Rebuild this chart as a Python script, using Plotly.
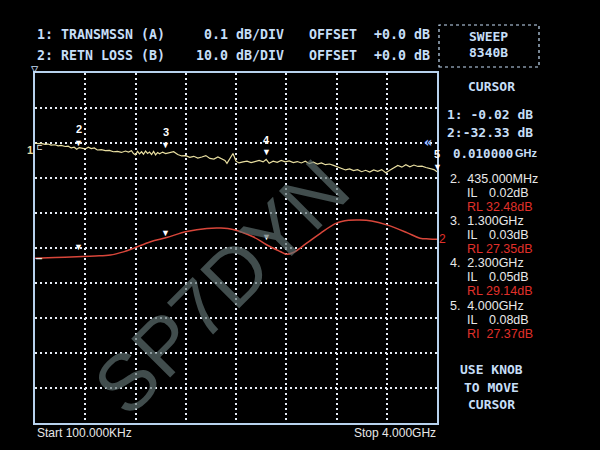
import plotly.graph_objects as go

# ---------------- data ----------------
# Trace 1: transmission (dB), 0.1 dB/div
trans_freq = [0.0001, 0.03, 0.06, 0.10, 0.13, 0.16, 0.20, 0.23, 0.26, 0.30, 0.33, 0.36, 0.39,
              0.415, 0.44, 0.47, 0.50, 0.53, 0.56, 0.59, 0.62, 0.66, 0.70, 0.74, 0.78, 0.82,
              0.86, 0.90, 0.93, 0.96, 0.98, 1.00, 1.02, 1.04, 1.06, 1.08, 1.10, 1.12, 1.14,
              1.16, 1.18, 1.20, 1.22, 1.24, 1.27, 1.30, 1.34, 1.38, 1.42, 1.46, 1.50, 1.54,
              1.58, 1.62, 1.66, 1.70, 1.74, 1.78, 1.82, 1.86, 1.89, 1.91, 1.94, 1.97, 2.00,
              2.03, 2.07, 2.11, 2.15, 2.19, 2.23, 2.27, 2.30, 2.33, 2.37, 2.41, 2.45, 2.49,
              2.53, 2.57, 2.61, 2.65, 2.69, 2.73, 2.77, 2.81, 2.85, 2.89, 2.93, 2.97, 3.01,
              3.05, 3.09, 3.13, 3.17, 3.21, 3.25, 3.29, 3.33, 3.37, 3.41, 3.45, 3.49, 3.53,
              3.57, 3.61, 3.65, 3.69, 3.73, 3.77, 3.81, 3.85, 3.89, 3.93, 3.97, 4.00]
trans_db = [0.000, -0.002, -0.001, -0.004, -0.003, -0.006, -0.005, -0.008, -0.007, -0.010,
            -0.009, -0.014, -0.012, -0.018, -0.013, -0.015, -0.017, -0.012, -0.016, -0.014,
            -0.020, -0.019, -0.022, -0.021, -0.025, -0.024, -0.027, -0.023, -0.026, -0.022,
            -0.030, -0.034, -0.024, -0.031, -0.025, -0.032, -0.023, -0.030, -0.026, -0.033,
            -0.024, -0.034, -0.027, -0.031, -0.026, -0.030, -0.028, -0.025, -0.033, -0.037,
            -0.036, -0.041, -0.038, -0.043, -0.040, -0.036, -0.044, -0.046, -0.040, -0.045,
            -0.050, -0.058, -0.042, -0.030, -0.052, -0.057, -0.054, -0.052, -0.056, -0.053,
            -0.050, -0.054, -0.047, -0.058, -0.052, -0.055, -0.050, -0.054, -0.051, -0.056,
            -0.053, -0.057, -0.052, -0.059, -0.055, -0.060, -0.057, -0.062, -0.060, -0.064,
            -0.068, -0.073, -0.077, -0.074, -0.079, -0.076, -0.082, -0.078, -0.083, -0.077,
            -0.081, -0.076, -0.085, -0.078, -0.070, -0.064, -0.069, -0.062, -0.068, -0.063,
            -0.067, -0.066, -0.070, -0.073, -0.076, -0.082]

# Trace 2: return loss (dB), 10 dB/div
rl_freq = [0.0001, 0.2, 0.415, 0.6, 0.75, 0.88, 0.98, 1.15, 1.31, 1.51, 1.71, 1.85, 1.97,
           2.17, 2.30, 2.44, 2.50, 2.57, 2.70, 2.84, 3.00, 3.12, 3.23, 3.35, 3.50, 3.70,
           3.83, 3.92, 4.00]
rl_db = [-32.9, -32.7, -32.5, -32.3, -32.0, -31.1, -30.1, -28.2, -27.0, -25.3, -24.4, -24.3,
         -24.7, -26.8, -29.0, -31.0, -31.8, -31.3, -28.7, -25.8, -22.9, -22.1, -22.0, -22.3,
         -23.4, -25.6, -27.2, -27.4, -27.5]

# Markers
marker_ids = ["2", "3", "4", "5"]
marker_freq = [0.435, 1.3, 2.3, 4.0]
marker_freq_text = ["435.000MHz", "1.300GHz", "2.300GHz", "4.000GHz"]
marker_il = [-0.02, -0.03, -0.05, -0.08]
marker_il_text = ["0.02dB", "0.03dB", "0.05dB", "0.08dB"]
marker_rl = [-32.48, -27.35, -29.14, -27.37]
marker_rl_text = ["RL 32.48dB", "RL 27.35dB", "RL 29.14dB", "RI  27.37dB"]

header_rows = [("1: TRANSMSSN (A)", "0.1 dB/DIV", "OFFSET", "+0.0 dB"),
               ("2: RETN LOSS (B)", "10.0 dB/DIV", "OFFSET", "+0.0 dB")]

# ---------------- style ----------------
W, H = 600, 450
MONO = "DejaVu Sans Mono"
SANS = "Liberation Sans"
BLUE = "#c6def7"
WHITE = "#e8e8e8"
RED = "#e0302a"
arrow_shift = [8, 9, 9, 5]      # px above trace, trace-1 marker arrows
label_shift = [21, 22, 21, 17]  # px above trace, trace-1 marker numbers
rl_arrow_shift = [10, 6, 8]


def px(x):
    return x / W


def py(y):
    return 1 - y / H


fig = go.Figure()
fig.add_trace(go.Scatter(x=rl_freq, y=rl_db, mode="lines", yaxis="y",
                         line=dict(color="#d8463a", width=1.5, shape="spline"),
                         hoverinfo="skip", showlegend=False))
fig.add_trace(go.Scatter(x=trans_freq, y=trans_db, mode="lines", yaxis="y2",
                         line=dict(color="#e8dea0", width=1.2),
                         hoverinfo="skip", showlegend=False))

ann = []


def text(x, y, s, size=13, color=BLUE, family=MONO, xanchor="left", bold=False, **kw):
    ann.append(dict(x=px(x), y=py(y), xref="paper", yref="paper", text=(f"<b>{s}</b>" if bold else s),
                    showarrow=False, xanchor=xanchor, yanchor="middle",
                    font=dict(family=family, size=size, color=color), **kw))


# header
for (a, b, c, d), yy in zip(header_rows, [34, 55]):
    text(35, yy, a, size=13.3, bold=True)
    text(286, yy, b, size=13.3, bold=True, xanchor="right")
    text(307, yy, c, size=13.3, bold=True)
    text(372, yy, d, size=13.3, bold=True)
text(489, 37, "SWEEP", size=13, bold=True, xanchor="center")
text(489, 53, "8340B", size=13, bold=True, xanchor="center")

# cursor panel
text(491, 86, "CURSOR", size=13, bold=True, xanchor="center")
text(445, 114, "1: -0.02 dB", size=13, bold=True)
text(445, 132, "2:-32.33 dB", size=13, bold=True)
text(451, 153, "0.010000", size=12.5, bold=True)
text(540, 153, "GHz", size=11, family=SANS, xanchor="right", bold=True)

ys = [179, 221, 263, 306]
for i in range(4):
    y0 = ys[i]
    text(448, y0, f"{marker_ids[i]}.  {marker_freq_text[i]}", size=12.5, family=SANS, color=WHITE)
    text(465, y0 + 14, "IL", size=12.5, family=SANS, color=WHITE)
    text(531, y0 + 14, marker_il_text[i], size=12.5, family=SANS, color=WHITE, xanchor="right")
    text(465, y0 + 28, marker_rl_text[i], size=12.5, family=SANS, color=RED)

text(491, 369, "USE KNOB", size=13, bold=True, xanchor="center")
text(491, 387, "TO MOVE", size=13, bold=True, xanchor="center")
text(491, 404, "CURSOR", size=13, bold=True, xanchor="center")

# bottom
text(35, 433, "Start 100.000KHz", size=12, family=SANS, color=WHITE)
text(438, 433, "Stop 4.000GHz", size=12, family=SANS, color=WHITE, xanchor="right")

# reference symbols
text(35, 69, "▽", size=12, color=BLUE, xanchor="center")
text(30, 150, "1", size=11, color="#e8dea0", family=SANS, xanchor="center", bold=True)
text(39, 147, "⊏", size=9, color=WHITE, xanchor="center")
text(39, 258, "–", size=10, color=WHITE, xanchor="center", bold=True)
text(428, 142, "«", size=14, color="#8fb4ff", xanchor="center", bold=True, borderpad=0)
text(442, 239, "2", size=12, color=RED, family=SANS, xanchor="center")

# marker arrows and numbers on traces
for i in range(4):
    ann.append(dict(x=marker_freq[i], y=marker_il[i], xref="x", yref="y2", text="▼",
                    showarrow=False, yshift=arrow_shift[i], borderpad=0,
                    font=dict(size=9, color="white")))
    ann.append(dict(x=marker_freq[i], y=marker_il[i], xref="x", yref="y2",
                    text=f"<b>{marker_ids[i]}</b>", borderpad=0,
                    showarrow=False, yshift=label_shift[i], font=dict(size=11, color="white", family=SANS)))
for i in range(3):
    ann.append(dict(x=marker_freq[i], y=marker_rl[i], xref="x", yref="y", text="▼",
                    showarrow=False, yshift=rl_arrow_shift[i], borderpad=0,
                    font=dict(size=9, color="white")))

# watermark
ann.append(dict(x=px(221), y=py(287), xref="paper", yref="paper", text="SP7DYN",
                showarrow=False, textangle=-45, xanchor="center", yanchor="middle",
                font=dict(family=SANS, size=80, color="rgba(96,114,114,0.68)")))

fig.update_layout(
    width=W, height=H,
    margin=dict(l=0, r=0, t=0, b=0),
    paper_bgcolor="black", plot_bgcolor="black",
    showlegend=False,
    xaxis=dict(domain=[35 / W, 437 / W], range=[0, 4], dtick=0.5, tick0=0,
               showticklabels=False, ticks="", zeroline=False,
               showgrid=True, gridcolor="#e6ecf5", gridwidth=1.6, griddash="2px,3px",
               showline=True, mirror=True, linecolor="#b8d2ee", linewidth=1.5),
    yaxis=dict(domain=[1 - 423 / H, 1 - 73 / H], range=[-80, 20], dtick=10, tick0=0,
               showticklabels=False, ticks="", zeroline=False,
               showgrid=True, gridcolor="#e6ecf5", gridwidth=1.6, griddash="2px,3px",
               showline=True, mirror=True, linecolor="#b8d2ee", linewidth=1.5),
    yaxis2=dict(overlaying="y", range=[-0.8, 0.2], visible=False, showgrid=False),
    annotations=ann,
    shapes=[dict(type="rect", xref="paper", yref="paper", x0=px(439), x1=px(539),
                 y0=py(67), y1=py(25), line=dict(color=BLUE, width=1.2, dash="dot"))],
)

fig.write_html("out.html", config={"displayModeBar": False},
               post_script="document.body.style.margin='0';document.body.style.background='black';")
